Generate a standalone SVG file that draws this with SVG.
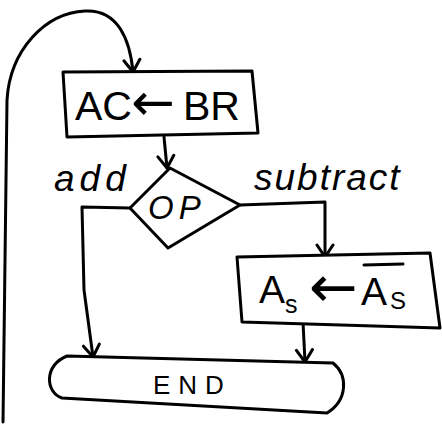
<svg xmlns="http://www.w3.org/2000/svg" width="442" height="424" viewBox="0 0 442 424">
<style>
.ln{fill:none;stroke:#000;stroke-width:3;stroke-linejoin:round;stroke-linecap:round}
.sh{fill:#fff;stroke:#000;stroke-width:3;stroke-linejoin:round}
.tx{font-family:"Liberation Sans","DejaVu Sans",sans-serif;fill:#000}
.ar{font-family:"DejaVu Sans",sans-serif}
.hw{font-family:"Liberation Sans","DejaVu Sans",sans-serif;font-style:italic;fill:#000}
</style>
<defs>
<marker id="ah" viewBox="-14 -10 16 20" refX="0" refY="0" markerWidth="16" markerHeight="20" markerUnits="userSpaceOnUse" orient="auto">
<path d="M-12,-8 L0,0 L-12,8" fill="none" stroke="#000" stroke-width="3" stroke-linecap="round" stroke-linejoin="round"/>
</marker>
</defs>
<rect width="442" height="424" fill="#fff"/>
<g id="connectors">
<path class="ln" d="M3,422 L7,100 C10,50 45,13 85,11 C118,9 130,40 133,72" marker-end="url(#ah)"/>
<path class="ln" d="M164,137 L167,168" marker-end="url(#ah)"/>
<path class="ln" d="M130,208 L82,207 L84,290 L93,357" marker-end="url(#ah)"/>
<path class="ln" d="M240,205 L325,202 L325,257" marker-end="url(#ah)"/>
<path class="ln" d="M303,322 L305,362" marker-end="url(#ah)"/>
</g>
<g id="node-ac-br">
<polygon class="sh" points="63,72 252,71 258,133 67,137"/>
<text class="tx" font-size="41"><tspan x="75" y="120">AC</tspan><tspan class="ar" x="131" y="120" font-size="52">←</tspan><tspan x="183" y="120">BR</tspan></text>
</g>
<g id="node-op">
<polygon class="sh" points="170,168 240,205 168,248 130,208"/>
<text class="hw" x="148" y="219" font-size="33" letter-spacing="5">OP</text>
</g>
<g id="label-add">
<text class="hw" x="54" y="191" font-size="37" letter-spacing="5">add</text>
</g>
<g id="label-subtract">
<text class="hw" x="254" y="190" font-size="37" letter-spacing="2">subtract</text>
</g>
<g id="node-as">
<polygon class="sh" points="237,257 430,253 440,328 242,322"/>
<text class="tx" font-size="39"><tspan x="259" y="303">A</tspan><tspan x="285" y="313" font-size="25">s</tspan><tspan class="ar" x="309" y="307" font-size="58">←</tspan><tspan x="361" y="305">A</tspan><tspan x="390" y="309" font-size="24">S</tspan></text>
<line class="ln" x1="364" y1="265" x2="403" y2="264"/>
</g>
<g id="node-end">
<path class="sh" d="M67,356 L333,363 C348,375 348,400 327,413 L62,398 C45,392 44,365 67,356 Z"/>
<text class="tx" x="153" y="394" font-size="26" letter-spacing="8">END</text>
</g>
</svg>
